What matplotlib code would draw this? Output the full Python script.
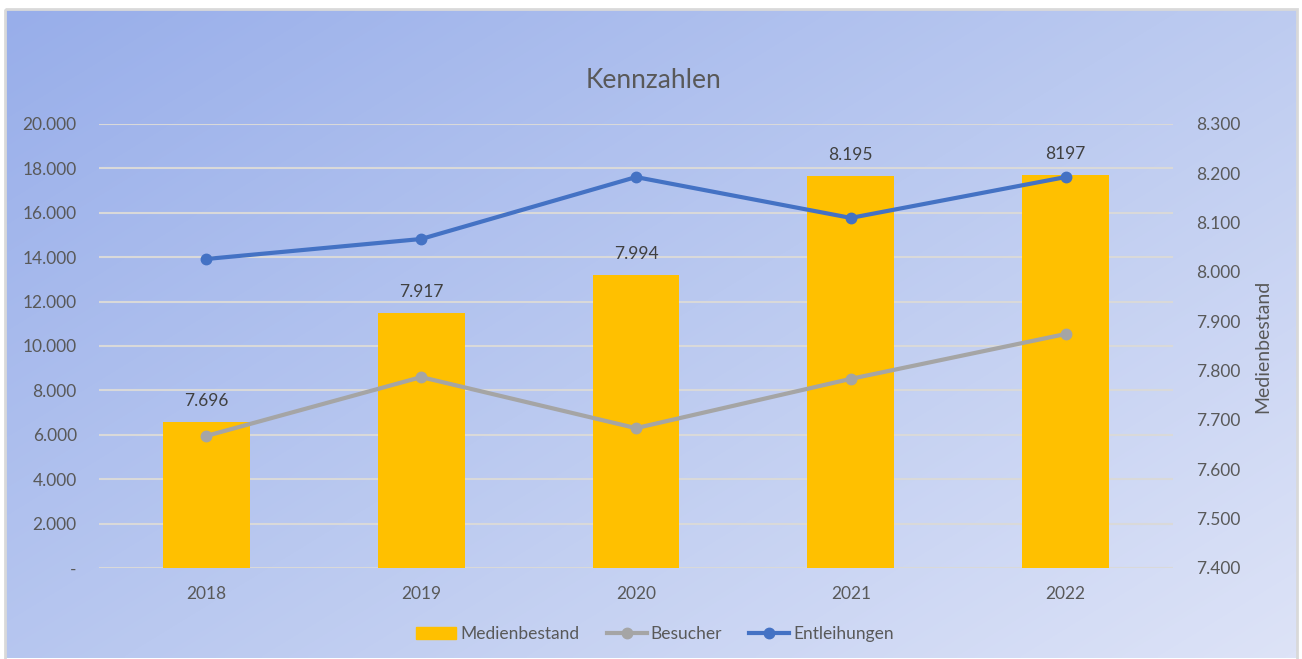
import numpy as np
import matplotlib.pyplot as plt
from matplotlib.colors import LinearSegmentedColormap
from matplotlib.lines import Line2D
from matplotlib.patches import Patch, Rectangle

plt.rcParams['font.family'] = ['Lato', 'DejaVu Sans']

# Data
years = ['2018', '2019', '2020', '2021', '2022']
medienbestand = [7696, 7917, 7994, 8195, 8197]
medien_labels = ['7.696', '7.917', '7.994', '8.195', '8197']
besucher = [5950, 8600, 6300, 8520, 10540]
entleihungen = [13920, 14820, 17610, 15770, 17610]

left_ticks = [0, 2000, 4000, 6000, 8000, 10000, 12000, 14000, 16000, 18000, 20000]
left_labels = ['-', '2.000', '4.000', '6.000', '8.000', '10.000', '12.000',
               '14.000', '16.000', '18.000', '20.000']
right_ticks = [7400, 7500, 7600, 7700, 7800, 7900, 8000, 8100, 8200, 8300]
right_labels = ['7.400', '7.500', '7.600', '7.700', '7.800', '7.900',
                '8.000', '8.100', '8.200', '8.300']

TXT = '#595959'
W, H = 1302, 659
fig = plt.figure(figsize=(W / 100, H / 100), dpi=100)

# background gradient (diagonal) inside grey frame
bg = fig.add_axes([0, 0, 1, 1], zorder=-10)
bg.set_xlim(0, W)
bg.set_ylim(H, 0)
bg.set_axis_off()
yy, xx = np.mgrid[0:1:200j, 0:1:400j]
t = (xx * 0.55 + yy * 0.45)
cmap = LinearSegmentedColormap.from_list('bg', ['#98aeea', '#bac9f0', '#dde3f7'])
bg.imshow(t, cmap=cmap, extent=[6, 1297, 658, 10], aspect='auto',
          interpolation='bilinear')
bg.add_patch(Rectangle((5, 9), 1292, 660, fill=False, edgecolor='#d9d9d9',
                       linewidth=2))

# axes: grid/left scale, bars/right scale, lines/left scale
rect = [99 / W, 1 - 568 / H, (1173 - 99) / W, (568 - 124) / H]
ax = fig.add_axes(rect)
ax.patch.set_visible(False)
x = np.arange(len(years))
ax.set_xlim(-0.5, len(years) - 0.5)
ax.set_ylim(0, 20000)
ax.set_yticks(left_ticks)
ax.set_yticklabels(left_labels)
ax.grid(axis='y', color='#d9d9d9', linewidth=1.5)
ax.set_axisbelow(True)
ax.set_xticks(x)
ax.set_xticklabels(years)
ax.tick_params(length=0, colors=TXT, labelsize=12.5)
ax.tick_params(axis='y', pad=16)
ax.tick_params(axis='x', pad=13)
for s in ax.spines.values():
    s.set_visible(False)

axb = ax.twinx()
axb.set_ylim(7400, 8300)
axb.bar(x, np.array(medienbestand) - 7400, bottom=7400, width=0.405,
        color='#ffc000', zorder=2)
for xi, v, lab in zip(x, medienbestand, medien_labels):
    axb.annotate(lab, (xi, v), xytext=(0, 9), textcoords='offset points',
                 ha='center', va='bottom', color='#404040', fontsize=12.5)
axb.set_yticks(right_ticks)
axb.set_yticklabels(right_labels)
axb.tick_params(length=0, colors=TXT, labelsize=12.5, pad=16.5)
axb.set_ylabel('Medienbestand', color=TXT, fontsize=14, labelpad=10)
for s in axb.spines.values():
    s.set_visible(False)

axl = ax.twinx()
axl.set_ylim(0, 20000)
axl.set_yticks([])
for s in axl.spines.values():
    s.set_visible(False)
axl.plot(x, besucher, color='#a5a5a5', lw=3, marker='o', ms=7.5)
axl.plot(x, entleihungen, color='#4472c4', lw=3, marker='o', ms=7.5)

fig.text(653 / W, 1 - 80 / H, 'Kennzahlen', ha='center', va='center',
         fontsize=19, color=TXT)

handles = [Patch(color='#ffc000'),
           Line2D([], [], color='#a5a5a5', lw=3, marker='o', ms=7.5),
           Line2D([], [], color='#4472c4', lw=3, marker='o', ms=7.5)]
fig.legend(handles, ['Medienbestand', 'Besucher', 'Entleihungen'],
           loc='center', bbox_to_anchor=(655 / W, 1 - 634 / H), ncol=3,
           frameon=False, fontsize=12.5, labelcolor=TXT, handlelength=2.3,
           handletextpad=0.2, columnspacing=1.6)

fig.savefig('out.png', dpi=100, facecolor='white')
